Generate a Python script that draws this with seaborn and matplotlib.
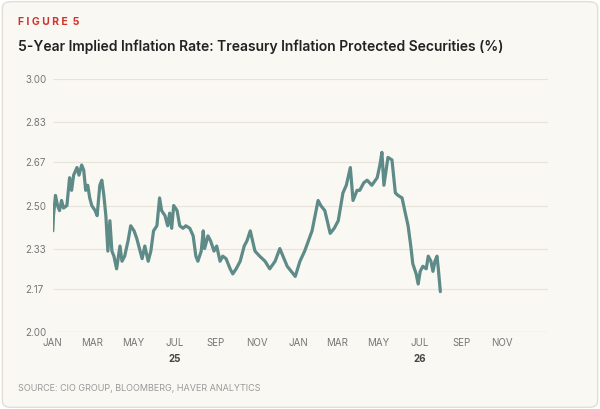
import numpy as np
import pandas as pd
import matplotlib
matplotlib.use("Agg")
import matplotlib.pyplot as plt
import matplotlib.dates as mdates
from matplotlib.patches import FancyBboxPatch
import seaborn as sns

# day offsets from 2025-01-01 and rate values
days = [0, 1, 4, 7, 10, 13, 16, 21, 25, 28, 31, 36, 39, 43, 46, 49, 52, 55, 58, 63,
        66, 70, 73, 76, 79, 82, 85, 88, 91, 95, 100, 103, 107, 112, 116, 121, 125, 130, 133, 137,
        142, 146, 150, 155, 159, 162, 167, 171, 174, 177, 180, 185, 189, 194, 198, 204, 209, 213, 216, 221,
        224, 226, 231, 235, 240, 244, 249, 253, 258, 264, 268, 273, 279, 285, 289, 294,
        301, 308, 316, 323, 331, 338, 349, 355, 361, 368, 375, 386, 395, 399, 405, 413, 419, 425, 432, 437,
        443, 447, 453, 457, 463, 468, 475, 483, 487, 490, 493, 499, 505, 510, 514, 520, 524, 529, 533, 536,
        541, 544, 547, 551, 556, 559, 563, 566, 569, 572, 574, 577]
rate = [2.40, 2.46, 2.54, 2.50, 2.48, 2.52, 2.49, 2.50, 2.61, 2.56, 2.62, 2.65, 2.62, 2.66, 2.64, 2.56, 2.58, 2.53, 2.50, 2.48,
        2.46, 2.58, 2.60, 2.54, 2.46, 2.32, 2.44, 2.32, 2.30, 2.25, 2.34, 2.28, 2.30, 2.36, 2.42, 2.40, 2.37, 2.32, 2.29, 2.34,
        2.28, 2.32, 2.40, 2.42, 2.53, 2.48, 2.46, 2.42, 2.47, 2.41, 2.50, 2.48, 2.42, 2.41, 2.42, 2.41, 2.38, 2.30, 2.28, 2.32,
        2.40, 2.33, 2.38, 2.36, 2.32, 2.34, 2.28, 2.30, 2.29, 2.25, 2.23, 2.25, 2.28, 2.34, 2.36, 2.40,
        2.32, 2.30, 2.28, 2.25, 2.28, 2.33, 2.26, 2.24, 2.22, 2.28, 2.32, 2.40, 2.52, 2.50, 2.48, 2.39, 2.41, 2.44, 2.55, 2.58,
        2.65, 2.52, 2.56, 2.56, 2.59, 2.60, 2.58, 2.61, 2.66, 2.71, 2.58, 2.69, 2.68, 2.55, 2.54, 2.53, 2.48, 2.42, 2.34, 2.27,
        2.23, 2.19, 2.24, 2.26, 2.25, 2.30, 2.28, 2.24, 2.28, 2.30, 2.25, 2.16]
yticks = [2.00, 2.17, 2.33, 2.50, 2.67, 2.83, 3.00]
month_labels = ["JAN", "MAR", "MAY", "JUL", "SEP", "NOV", "JAN", "MAR", "MAY", "JUL", "SEP", "NOV"]

df = pd.DataFrame({"date": pd.Timestamp("2025-01-01") + pd.to_timedelta(days, unit="D"), "rate": rate})

bg = "#faf8f3"
sns.set_theme(style="white")
plt.rcParams["font.family"] = ["Inter", "DejaVu Sans"]

fig = plt.figure(figsize=(6, 4.09), dpi=100, facecolor="white")
fig.patches.append(FancyBboxPatch((0.004, 0.004), 0.992, 0.992, boxstyle="round,pad=0,rounding_size=0.015",
                                  transform=fig.transFigure, facecolor=bg, edgecolor="#e2ded5", lw=1,
                                  zorder=-10))
ax = fig.add_axes([0.088, 0.188, 0.825, 0.619])
ax.set_facecolor("none")

sns.lineplot(data=df, x="date", y="rate", ax=ax, color="#5e8a87", lw=2.3)

ax.set_ylim(2.0, 3.0)
ax.set_yticks(yticks)
ax.set_yticklabels([f"{v:.2f}" for v in yticks])
ax.set_xlim(pd.Timestamp("2025-01-01"), pd.Timestamp("2027-01-08"))
ticks = pd.date_range("2025-01-01", "2026-11-01", freq="2MS")
ax.set_xticks(ticks)
ax.set_xticklabels(month_labels)
ax.grid(axis="y", color="#e8e4dc", lw=0.8)
for s in ax.spines.values():
    s.set_visible(False)
ax.axhline(2.0, color="#cfcbc2", lw=0.8)
ax.tick_params(axis="both", length=0, labelsize=7, colors="#777777", pad=4)
for lab in ax.get_yticklabels():
    lab.set_horizontalalignment("left")
ax.tick_params(axis="y", pad=20)
ax.set_xlabel("")
ax.set_ylabel("")
for yr, d in [("25", "2025-07-01"), ("26", "2026-07-01")]:
    ax.text(mdates.date2num(pd.Timestamp(d)), -0.085, yr, transform=ax.get_xaxis_transform(),
            ha="center", va="top", fontsize=7, fontweight="bold", color="#444444")

fig.text(0.03, 0.94, "F I G U R E  5", color="#d0342c", fontsize=7.5, fontweight="bold")
fig.text(0.03, 0.875, "5-Year Implied Inflation Rate: Treasury Inflation Protected Securities (%)",
         color="#222222", fontsize=10, fontweight="semibold")
fig.text(0.03, 0.045, "SOURCE: CIO GROUP, BLOOMBERG, HAVER ANALYTICS", color="#999999", fontsize=6.5)

fig.savefig("out.png", dpi=100, facecolor="white")
